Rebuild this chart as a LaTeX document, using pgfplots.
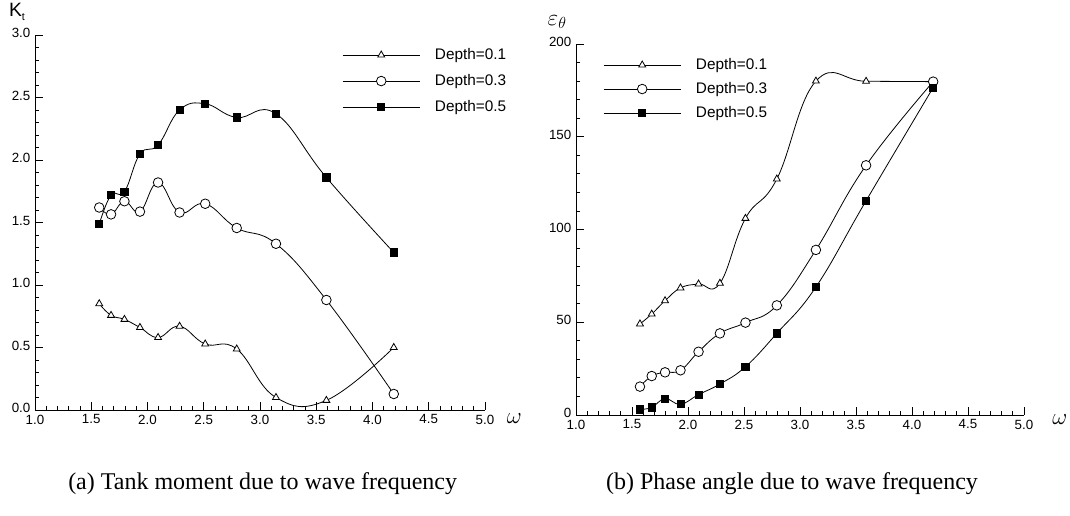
\documentclass[border=0pt]{standalone}
\usepackage{fontspec}
\setmainfont{Liberation Sans}
\newfontfamily\capfont{Liberation Serif}
\usepackage{pgfplots}
\pgfplotsset{compat=1.18}

\pgfplotsset{
  wavestyle/.style={
    scale only axis,
    axis lines*=left,
    tick align=inside,
    xmin=1, xmax=5,
    xtick={1,1.5,...,5},
    minor x tick num=4,
    minor y tick num=4,
    major tick length=6pt,
    minor tick length=3pt,
    every tick/.style={black, line width=0.6pt},
    axis line style={line width=0.7pt},
    /pgf/number format/assume math mode=true,
    xticklabel style={font=\fontsize{10}{12}\selectfont,
      /pgf/number format/fixed, /pgf/number format/fixed zerofill, /pgf/number format/precision=1},
    yticklabel style={font=\fontsize{10}{12}\selectfont, yshift=1.5pt},
    legend cell align=left,
    legend style={draw=none, fill=none, inner sep=0pt,
      font=\fontsize{11.5}{13}\selectfont,
      nodes={inner sep=0pt, text height=8pt, text depth=2pt},
      /tikz/every odd column/.append style={column sep=11pt}},
    legend image code/.code={
      \draw[mark repeat=2, mark phase=2, #1] plot coordinates {(0pt,0pt) (29pt,0pt) (58pt,0pt)};
    },
    every axis plot/.append style={black, line width=0.6pt, smooth, tension=0.72},
  },
  d1/.style={mark=triangle*, mark size=3pt, mark options={fill=white, solid}},
  d3/.style={mark=*, mark size=3.6pt, mark options={fill=white, solid}},
  d5/.style={mark=square*, mark size=2.7pt, mark options={fill=black, solid}},
}

\begin{document}
\begin{tikzpicture}
\useasboundingbox (0,0) rectangle (802.5pt,387pt);

% (a) tank moment
\begin{axis}[
  wavestyle,
  at={(26.25pt,79.5pt)}, anchor=south west,
  width=337.5pt, height=281.25pt,
  ymin=0, ymax=3,
  ytick={0,0.5,...,3},
  yticklabel style={/pgf/number format/fixed, /pgf/number format/fixed zerofill, /pgf/number format/precision=1},
  xlabel={$\omega$},
  xlabel style={at={(rel axis cs:1.065,-0.022)}, anchor=center, font=\fontsize{16}{17}\selectfont},
  ylabel={K\raisebox{-0.35ex}{\fontsize{8}{9}\selectfont t}},
  ylabel style={at={(rel axis cs:-0.04,1.062)}, anchor=center, rotate=-90, font=\fontsize{14.5}{16}\selectfont},
  legend style={at={(0.682,0.965)}, anchor=north west, row sep=9.5pt},
]
\addplot[d1] coordinates {(1.571,0.85) (1.676,0.757) (1.795,0.725) (1.933,0.66) (2.094,0.58) (2.285,0.67) (2.513,0.528) (2.793,0.488) (3.142,0.10) (3.590,0.077) (4.189,0.50)};
\addplot[d3] coordinates {(1.571,1.62) (1.676,1.565) (1.795,1.67) (1.933,1.587) (2.094,1.82) (2.285,1.58) (2.513,1.65) (2.793,1.456) (3.142,1.33) (3.590,0.88) (4.189,0.128)};
\addplot[d5] coordinates {(1.571,1.486) (1.676,1.72) (1.795,1.746) (1.933,2.048) (2.094,2.12) (2.285,2.40) (2.513,2.45) (2.793,2.34) (3.142,2.37) (3.590,1.86) (4.189,1.26)};
\legend{Depth=0.1, Depth=0.3, Depth=0.5}
\end{axis}

% (b) phase angle
\begin{axis}[
  wavestyle,
  at={(432pt,75.75pt)}, anchor=south west,
  width=336pt, height=278.25pt,
  ymin=0, ymax=200,
  ytick={0,50,...,200},
  xlabel={$\omega$},
  xlabel style={at={(rel axis cs:1.08,-0.012)}, anchor=center, font=\fontsize{16}{17}\selectfont},
  ylabel={$\varepsilon_\theta$},
  ylabel style={at={(rel axis cs:-0.042,1.059)}, anchor=center, rotate=-90, font=\fontsize{18}{19}\selectfont},
  legend style={at={(0.060,0.962)}, anchor=north west, row sep=8pt},
]
\addplot[d1] coordinates {(1.571,49.1) (1.676,54.4) (1.795,61.6) (1.933,68.5) (2.094,70.6) (2.285,71) (2.513,106) (2.793,127.2) (3.142,180) (3.590,179.9) (4.189,179.7)};
\addplot[d3] coordinates {(1.571,15.3) (1.676,21) (1.795,23) (1.933,24.1) (2.094,34.1) (2.285,44) (2.513,49.8) (2.793,59.1) (3.142,89) (3.590,134.6) (4.189,179.7)};
\addplot[d5] coordinates {(1.571,3.0) (1.676,4.1) (1.795,8.8) (1.933,5.8) (2.094,11) (2.285,16.7) (2.513,26) (2.793,44) (3.142,69) (3.590,115.5) (4.189,176.5)};
\legend{Depth=0.1, Depth=0.3, Depth=0.5}
\end{axis}

\node[font=\capfont\fontsize{18}{20}\selectfont] at (197pt,24pt) {(a) Tank moment due to wave frequency};
\node[font=\capfont\fontsize{18}{20}\selectfont] at (594pt,24pt) {(b) Phase angle due to wave frequency};
\end{tikzpicture}
\end{document}
